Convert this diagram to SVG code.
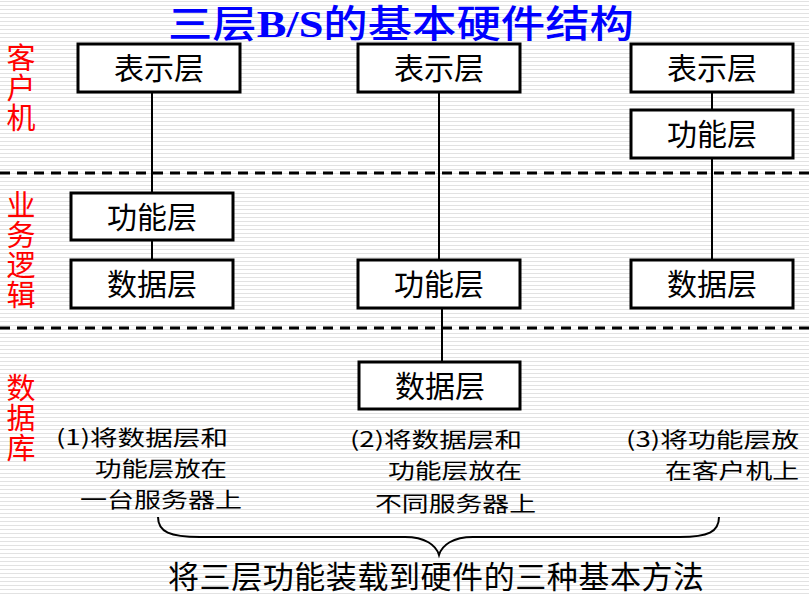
<svg xmlns="http://www.w3.org/2000/svg" width="809" height="597" viewBox="0 0 809 597">
<defs>
<pattern id="stripes" width="8" height="4" patternUnits="userSpaceOnUse">
<rect x="0" y="0" width="8" height="4" fill="#ffffff"/>
<rect x="0" y="1" width="8" height="1" fill="#e2e2e2"/>
</pattern>
<style>
.box{fill:#ffffff;stroke:#000000;stroke-width:3}
.lbl{font-family:"Noto Sans CJK SC","Noto Sans",sans-serif;font-size:30px;fill:#000000;text-anchor:middle}
.conn{stroke:#000000;stroke-width:2;fill:none}
.dash{stroke:#000000;stroke-width:3;stroke-dasharray:10 7}
.side{font-family:"Noto Sans CJK SC",sans-serif;font-size:29px;fill:#ff0000;writing-mode:vertical-rl;letter-spacing:1px}
.note{font-family:"Noto Sans CJK SC","Liberation Serif",sans-serif;font-size:21px;fill:#000000}
</style>
</defs>
<rect x="0" y="0" width="809" height="597" fill="url(#stripes)"/>

<text x="168" y="37" textLength="466" lengthAdjust="spacingAndGlyphs" font-family="Noto Sans CJK SC,sans-serif" font-size="38" font-weight="500" fill="#0000ff">三层<tspan font-family="Liberation Serif,serif" font-weight="bold">B/S</tspan>的基本硬件结构</text>

<g id="side-labels">
<text class="side" x="21" y="43">客户机</text>
<text class="side" x="21" y="190">业务逻辑</text>
<text class="side" x="21" y="373">数据库</text>
</g>

<g id="separators">
<line class="dash" x1="0" y1="173" x2="809" y2="173"/>
<line class="dash" x1="0" y1="328" x2="809" y2="328"/>
</g>

<g id="connectors">
<line class="conn" x1="152" y1="92" x2="152" y2="193"/>
<line class="conn" x1="152" y1="240" x2="152" y2="259"/>
<line class="conn" x1="439" y1="92" x2="439" y2="259"/>
<line class="conn" x1="442" y1="308" x2="442" y2="362"/>
<line class="conn" x1="712" y1="92" x2="712" y2="110"/>
<line class="conn" x1="712" y1="158" x2="712" y2="259"/>
</g>

<g id="c1-present"><rect class="box" x="78" y="44" width="162" height="48"/><text class="lbl" x="159" y="79">表示层</text></g>
<g id="c1-func"><rect class="box" x="71" y="193" width="162" height="47"/><text class="lbl" x="152" y="228">功能层</text></g>
<g id="c1-data"><rect class="box" x="71" y="260" width="162" height="48"/><text class="lbl" x="152" y="295">数据层</text></g>

<g id="c2-present"><rect class="box" x="358" y="44" width="162" height="48"/><text class="lbl" x="439" y="79">表示层</text></g>
<g id="c2-func"><rect class="box" x="358" y="260" width="162" height="48"/><text class="lbl" x="439" y="295">功能层</text></g>
<g id="c2-data"><rect class="box" x="359" y="362" width="161" height="47"/><text class="lbl" x="440" y="397">数据层</text></g>

<g id="c3-present"><rect class="box" x="631" y="44" width="162" height="48"/><text class="lbl" x="712" y="79">表示层</text></g>
<g id="c3-func"><rect class="box" x="631" y="110" width="162" height="48"/><text class="lbl" x="712" y="145">功能层</text></g>
<g id="c3-data"><rect class="box" x="631" y="260" width="162" height="48"/><text class="lbl" x="712" y="295">数据层</text></g>

<g id="notes">
<text class="note"><tspan x="56" y="445" textLength="172" lengthAdjust="spacingAndGlyphs">(1)将数据层和</tspan><tspan x="95" y="476" textLength="132" lengthAdjust="spacingAndGlyphs">功能层放在</tspan><tspan x="80" y="507" textLength="162" lengthAdjust="spacingAndGlyphs">一台服务器上</tspan></text>
<text class="note"><tspan x="350" y="447" textLength="172" lengthAdjust="spacingAndGlyphs">(2)将数据层和</tspan><tspan x="388" y="478" textLength="134" lengthAdjust="spacingAndGlyphs">功能层放在</tspan><tspan x="375" y="511" textLength="161" lengthAdjust="spacingAndGlyphs">不同服务器上</tspan></text>
<text class="note"><tspan x="626" y="447" textLength="173" lengthAdjust="spacingAndGlyphs">(3)将功能层放</tspan><tspan x="665" y="478" textLength="134" lengthAdjust="spacingAndGlyphs">在客户机上</tspan></text>
</g>

<g id="brace">
<path class="conn" d="M158 517 C158 532 170 537 200 537 L405 537 C425 537 436 545 439 555 C442 545 453 537 473 537 L680 537 C708 537 719 532 719 517"/>
</g>

<text x="436" y="588" text-anchor="middle" textLength="536" font-family="Noto Sans CJK SC,sans-serif" font-size="31" fill="#000000">将三层功能装载到硬件的三种基本方法</text>
</svg>
